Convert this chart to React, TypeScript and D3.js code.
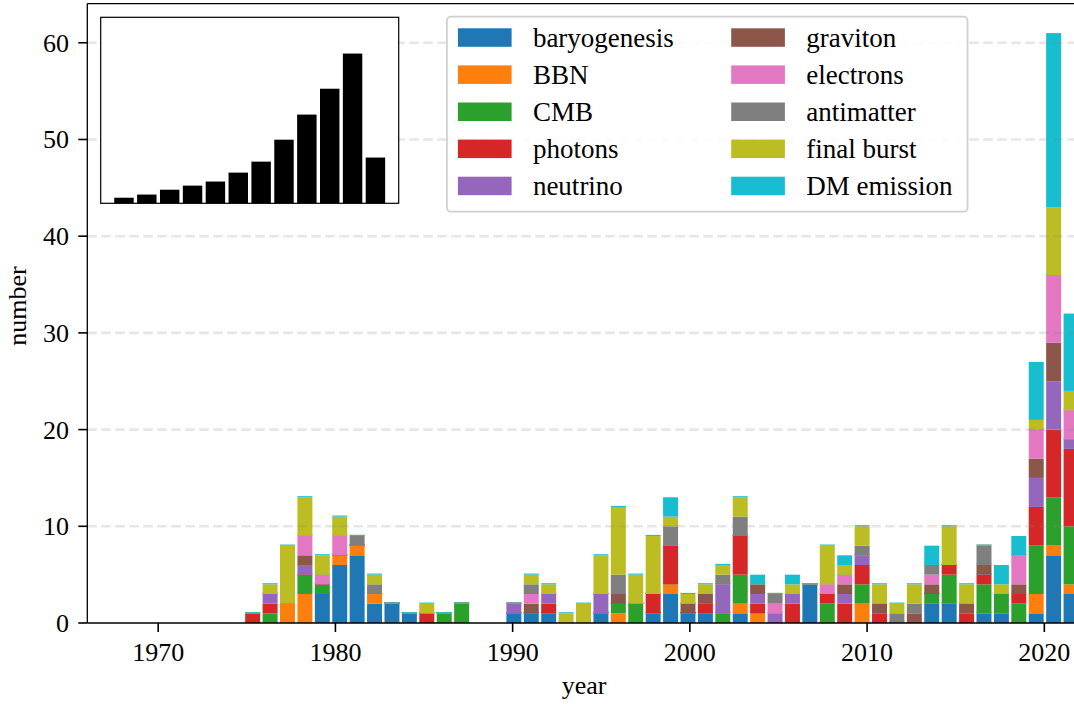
import React from 'react';
import * as d3 from 'd3';

const years = [
  1975, 1976, 1977, 1978, 1979, 1980, 1981, 1982, 1983, 1984,
  1985, 1986, 1987, 1988, 1989, 1990, 1991, 1992, 1993, 1994,
  1995, 1996, 1997, 1998, 1999, 2000, 2001, 2002, 2003, 2004,
  2005, 2006, 2007, 2008, 2009, 2010, 2011, 2012, 2013, 2014,
  2015, 2016, 2017, 2018, 2019, 2020, 2021, 2022,
];

const seriesNames = [
  'baryogenesis', 'BBN', 'CMB', 'photons', 'neutrino',
  'graviton', 'electrons', 'antimatter', 'final burst', 'DM emission',
];

const seriesColors = [
  '#1f77b4', '#ff7f0e', '#2ca02c', '#d62728', '#9467bd',
  '#8c564b', '#e377c2', '#7f7f7f', '#bcbd22', '#17becf',
];

const baryogenesis = [
  0, 0, 0, 0, 3, 6, 7, 2, 2, 1,
  0, 0, 0, 0, 0, 1, 1, 1, 0, 0,
  1, 0, 0, 1, 3, 1, 1, 0, 1, 0,
  0, 0, 4, 0, 0, 0, 0, 0, 0, 2,
  2, 0, 1, 1, 0, 1, 7, 3,
];
const bbn = [
  0, 0, 2, 3, 0, 1, 1, 1, 0, 0,
  0, 0, 0, 0, 0, 0, 0, 0, 0, 0,
  0, 1, 0, 0, 1, 0, 0, 0, 1, 1,
  0, 0, 0, 0, 0, 2, 0, 0, 0, 0,
  0, 0, 0, 0, 0, 2, 1, 1,
];
const cmb = [
  0, 1, 0, 2, 1, 0, 0, 0, 0, 0,
  0, 1, 2, 0, 0, 0, 0, 0, 0, 0,
  0, 1, 2, 0, 0, 0, 0, 1, 3, 0,
  0, 0, 0, 2, 0, 2, 0, 0, 0, 1,
  3, 0, 3, 2, 2, 5, 5, 6,
];
const photons = [
  1, 1, 0, 0, 0, 0, 0, 0, 0, 0,
  1, 0, 0, 0, 0, 0, 0, 1, 0, 0,
  0, 0, 0, 2, 4, 0, 1, 0, 4, 1,
  0, 2, 0, 1, 2, 2, 1, 0, 0, 0,
  1, 1, 1, 0, 1, 4, 7, 8,
];
const neutrino = [
  0, 1, 0, 1, 0, 0, 0, 0, 0, 0,
  0, 0, 0, 0, 0, 1, 0, 1, 0, 0,
  2, 0, 0, 0, 0, 0, 0, 3, 0, 1,
  1, 1, 0, 0, 1, 1, 0, 0, 0, 0,
  0, 0, 0, 0, 0, 3, 5, 1,
];
const graviton = [
  0, 0, 0, 1, 0, 0, 0, 0, 0, 0,
  0, 0, 0, 0, 0, 0, 1, 0, 0, 0,
  0, 1, 0, 0, 0, 1, 1, 0, 0, 1,
  0, 0, 0, 0, 1, 0, 1, 0, 1, 1,
  0, 1, 1, 0, 1, 2, 4, 0,
];
const electrons = [
  0, 0, 0, 2, 1, 2, 0, 0, 0, 0,
  0, 0, 0, 0, 0, 0, 1, 0, 0, 0,
  0, 0, 0, 0, 0, 0, 0, 0, 0, 0,
  1, 0, 0, 1, 1, 0, 0, 0, 0, 1,
  0, 0, 0, 0, 3, 3, 7, 3,
];
const antimatter = [
  0, 0, 0, 0, 0, 0, 1, 1, 0, 0,
  0, 0, 0, 0, 0, 0, 1, 0, 0, 0,
  0, 2, 0, 0, 2, 0, 0, 1, 2, 0,
  1, 0, 0, 0, 0, 1, 0, 1, 1, 1,
  0, 0, 2, 0, 0, 0, 0, 0,
];
const finalBurst = [
  0, 1, 6, 4, 2, 2, 0, 1, 0, 0,
  1, 0, 0, 0, 0, 0, 1, 1, 1, 2,
  4, 7, 3, 6, 1, 1, 1, 1, 2, 0,
  0, 1, 0, 4, 1, 2, 2, 1, 2, 0,
  4, 2, 0, 1, 0, 1, 7, 2,
];
const dmEmission = [
  0, 0, 0, 0, 0, 0, 0, 0, 0, 0,
  0, 0, 0, 0, 0, 0, 0, 0, 0, 0,
  0, 0, 0, 0, 2, 0, 0, 0, 0, 1,
  0, 1, 0, 0, 1, 0, 0, 0, 0, 2,
  0, 0, 0, 2, 2, 6, 18, 8,
];

const seriesValues = [
  baryogenesis, bbn, cmb, photons, neutrino,
  graviton, electrons, antimatter, finalBurst, dmEmission,
];

// histogram bin range (48 bins, as in the picture)
const histRange = [1974.84, 2022.0];

const xTicks = [1970, 1980, 1990, 2000, 2010, 2020];
const yTicks = [0, 10, 20, 30, 40, 50, 60];

// inset histogram heights (relative units, domain 0..100)
const insetValues = [3.0, 4.7, 7.3, 9.5, 11.7, 16.5, 22.4, 34.2, 47.7, 61.6, 80.5, 24.6];

const W = 1074;
const H = 704;
const FONT = "'Liberation Serif', 'Times New Roman', serif";

export default function App() {
  const left = 87.3;
  const right = 1081;
  const top = 3.6;
  const bottom = 623;

  const x = d3.scaleLinear().domain([1966, 2022.07]).range([left, right]);
  const y = d3.scaleLinear().domain([0, 64.05]).range([bottom, top]);

  const binW = (histRange[1] - histRange[0]) / years.length;
  const rwidth = 0.86;

  const rows = years.map((yr, i) => {
    const r: any = { year: yr, idx: i };
    seriesNames.forEach((s, j) => (r[s] = seriesValues[j][i]));
    return r;
  });
  const stacked = d3.stack().keys(seriesNames)(rows);
  const totals = years.map((_, i) => d3.sum(seriesValues, (s) => s[i]));

  const rects: any[] = [];
  stacked.forEach((layer, j) => {
    layer.forEach((d: any, i) => {
      if (totals[i] === 0) return;
      const c = histRange[0] + (i + 0.5) * binW;
      const x0 = x(c - (rwidth * binW) / 2);
      const x1 = x(c + (rwidth * binW) / 2);
      const yTop = y(d[1]);
      const yBot = y(d[0]);
      let h = yBot - yTop;
      let yy = yTop;
      if (h < 0.5) {
        h = 1.1;
        yy = yBot - 1.1;
      }
      rects.push(
        <rect key={`b${j}-${i}`} x={x0} y={yy} width={x1 - x0} height={h} fill={seriesColors[j]} />
      );
    });
  });

  // inset
  const iL = 100.7, iR = 398.7, iT = 17.3, iB = 203.3;
  const insetRw = 0.85;
  const span = insetValues.length - 1 + insetRw;
  const m = span * 0.05;
  const ix = d3.scaleLinear()
    .domain([-insetRw / 2 - m, insetValues.length - 1 + insetRw / 2 + m])
    .range([iL, iR]);
  const iy = d3.scaleLinear().domain([0, 100]).range([iB, iT]);

  // legend
  const legX = 446.9, legY = 16.7, legW = 520.6, legH = 195;
  const rowPitch = 37.1;
  const col1 = 457.9, col2 = 731.2;
  const swH = 18.5;

  return (
    <svg
      width={W}
      height={H}
      style={{ position: 'absolute', left: 0, top: 0, background: '#fff' }}
      fontFamily={FONT}
    >
      <rect x={0} y={0} width={W} height={H} fill="#fff" />
      {rects}
      {/* gridlines on top of bars */}
      {yTicks.filter((t) => t > 0).map((t) => (
        <line
          key={`g${t}`}
          x1={left}
          x2={right}
          y1={y(t)}
          y2={y(t)}
          stroke="rgb(128,128,128)"
          strokeOpacity={0.2}
          strokeWidth={2.6}
          strokeDasharray="9.5,4.5"
        />
      ))}
      {/* spines */}
      <line x1={left} x2={left} y1={top} y2={bottom} stroke="#000" strokeWidth={1.3} />
      <line x1={left} x2={right} y1={bottom} y2={bottom} stroke="#000" strokeWidth={1.5} />
      <line x1={left} x2={right} y1={top} y2={top} stroke="#000" strokeWidth={1.3} />
      {/* x ticks */}
      {xTicks.map((t) => (
        <g key={`xt${t}`}>
          <line x1={x(t)} x2={x(t)} y1={bottom} y2={bottom + 9} stroke="#000" strokeWidth={1.6} />
          <text x={x(t)} y={661} textAnchor="middle" fontSize={26} fill="#000">
            {t}
          </text>
        </g>
      ))}
      {/* y ticks */}
      {yTicks.map((t) => (
        <g key={`yt${t}`}>
          <line x1={left - 9} x2={left} y1={y(t)} y2={y(t)} stroke="#000" strokeWidth={1.6} />
          <text x={69} y={y(t) + 9} textAnchor="end" fontSize={26} fill="#000">
            {t}
          </text>
        </g>
      ))}
      <text x={(left + right) / 2} y={694} textAnchor="middle" fontSize={26} fill="#000">
        year
      </text>
      <text
        transform={`translate(26, 306) rotate(-90)`}
        textAnchor="middle"
        fontSize={26}
        fill="#000"
      >
        number
      </text>

      {/* inset */}
      <rect x={iL} y={iT} width={iR - iL} height={iB - iT} fill="#fff" />
      {insetValues.map((v, i) => (
        <rect
          key={`in${i}`}
          x={ix(i - insetRw / 2)}
          y={iy(v)}
          width={ix(i + insetRw / 2) - ix(i - insetRw / 2)}
          height={iy(0) - iy(v)}
          fill="#000"
        />
      ))}
      <rect x={iL} y={iT} width={iR - iL} height={iB - iT} fill="none" stroke="#000" strokeWidth={1.2} />

      {/* legend */}
      <rect
        x={legX}
        y={legY}
        width={legW}
        height={legH}
        rx={4}
        ry={4}
        fill="#fff"
        fillOpacity={0.85}
        stroke="#d0d0d0"
        strokeWidth={1.8}
      />
      {seriesNames.map((s, j) => {
        const col = j < 5 ? 0 : 1;
        const row = j % 5;
        const sx = col === 0 ? col1 : col2;
        const sy = 28.3 + row * rowPitch;
        return (
          <g key={`lg${j}`}>
            <rect x={sx} y={sy} width={53.7} height={swH} fill={seriesColors[j]} />
            <text x={sx + 75} y={sy + swH} fontSize={27} fill="#000">
              {s}
            </text>
          </g>
        );
      })}
    </svg>
  );
}
